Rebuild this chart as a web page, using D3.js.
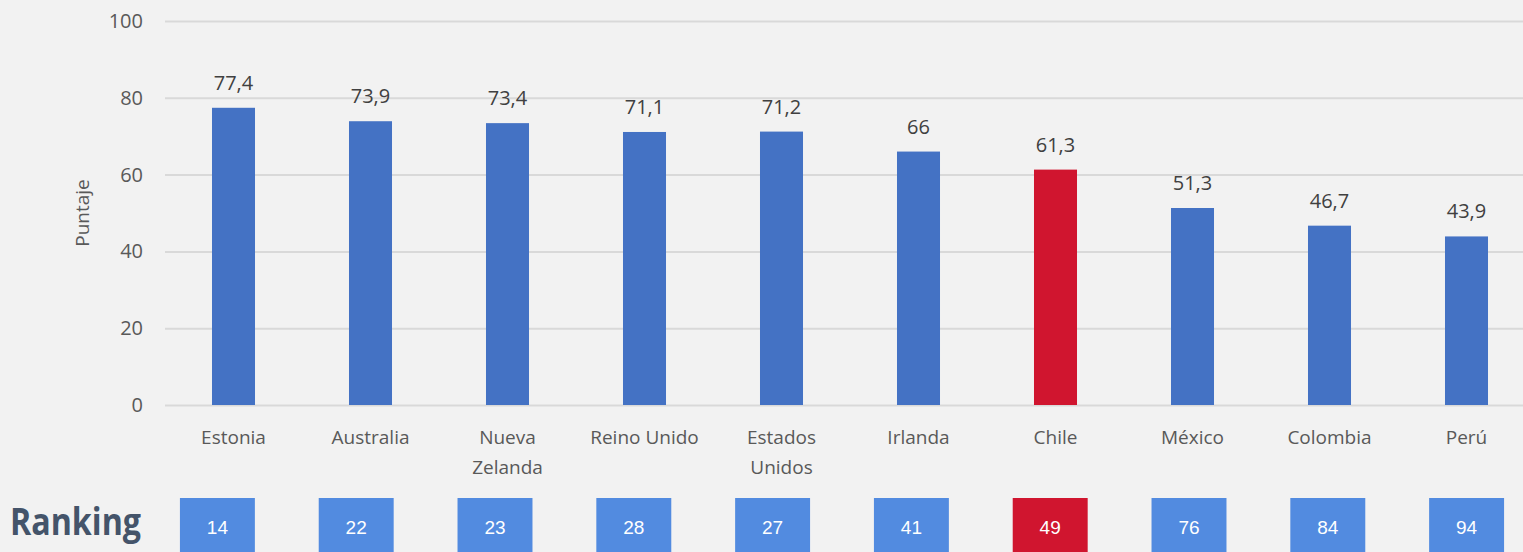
<!DOCTYPE html>
<html lang="es">
<head>
<meta charset="UTF-8">
<title>Puntaje y Ranking</title>
<script src="https://d3js.org/d3.v7.min.js"></script>
<style>
    html, body { margin: 0; padding: 0; background: #f2f2f2; }
    svg { display: block; font-family: "Open Sans", sans-serif; }
    .grid line { stroke: #d9d9d9; stroke-width: 2; }
    .grid .domain { display: none; }
    .tick-label { fill: #595959; font-size: 20px; }
    .cat-label { fill: #595959; font-size: 19px; }
    .value-label { fill: #404040; font-size: 20px; }
</style>
</head>
<body>
<svg id="chart" width="1523" height="552"></svg>
<script>
    const countries = ["Estonia", "Australia", "Nueva Zelanda", "Reino Unido", "Estados Unidos",
                       "Irlanda", "Chile", "México", "Colombia", "Perú"];
    const countryLines = [["Estonia"], ["Australia"], ["Nueva", "Zelanda"], ["Reino Unido"], ["Estados", "Unidos"],
                          ["Irlanda"], ["Chile"], ["México"], ["Colombia"], ["Perú"]];
    const scores = [77.4, 73.9, 73.4, 71.1, 71.2, 66, 61.3, 51.3, 46.7, 43.9];
    const ranking = [14, 22, 23, 28, 27, 41, 49, 76, 84, 94];
    const yTicks = [0, 20, 40, 60, 80, 100];
    const highlight = "Chile";

    const svg = d3.select("#chart");
    const plotTop = 21, plotBottom = 405;

    const x = d3.scaleBand()
        .domain(countries)
        .range([165, 1535])
        .paddingInner(0.686)
        .paddingOuter(0.343);

    const y = d3.scaleLinear()
        .domain([0, 100])
        .range([plotBottom, plotTop]);

    // gridlines
    svg.append("g")
        .attr("class", "grid")
        .attr("transform", "translate(165,0)")
        .call(d3.axisLeft(y).tickValues(yTicks).tickSize(-1400).tickFormat(""));

    // y tick labels
    svg.append("g")
        .selectAll("text")
        .data(yTicks)
        .join("text")
        .attr("class", "tick-label")
        .attr("x", 143)
        .attr("y", d => y(d))
        .attr("dy", "0.35em")
        .attr("text-anchor", "end")
        .text(d => d);

    svg.append("text")
        .attr("class", "cat-label")
        .attr("transform", `translate(89,${(plotTop + plotBottom) / 2}) rotate(-90)`)
        .attr("text-anchor", "middle")
        .text("Puntaje");

    // bars
    svg.append("g")
        .selectAll("rect")
        .data(countries)
        .join("rect")
        .attr("x", d => x(d))
        .attr("y", (d, i) => y(scores[i]))
        .attr("width", x.bandwidth())
        .attr("height", (d, i) => plotBottom - y(scores[i]))
        .attr("fill", d => d === highlight ? "#d0152f" : "#4472c4");

    // value labels
    const fmt = v => String(v).replace(".", ",");
    svg.append("g")
        .selectAll("text")
        .data(countries)
        .join("text")
        .attr("class", "value-label")
        .attr("x", d => x(d) + x.bandwidth() / 2)
        .attr("y", (d, i) => y(scores[i]) - 18)
        .attr("text-anchor", "middle")
        .text((d, i) => fmt(scores[i]));

    // category labels
    svg.append("g")
        .selectAll("text")
        .data(countries)
        .join("text")
        .attr("class", "cat-label")
        .attr("x", d => x(d) + x.bandwidth() / 2)
        .attr("y", 444)
        .attr("text-anchor", "middle")
        .selectAll("tspan")
        .data((d, i) => countryLines[i])
        .join("tspan")
        .attr("x", function() { return this.parentNode.getAttribute("x"); })
        .attr("dy", (d, i) => i === 0 ? 0 : 30)
        .text(d => d);

    // ranking row
    svg.append("text")
        .attr("x", 10)
        .attr("y", 535)
        .attr("fill", "#44546a")
        .attr("font-size", "37px")
        .attr("font-weight", "bold")
        .attr("textLength", 131)
        .attr("lengthAdjust", "spacingAndGlyphs")
        .text("Ranking");

    const xr = d3.scaleBand()
        .domain(countries)
        .range([148, 1536])
        .paddingInner(0.46)
        .paddingOuter(0.23);

    const boxes = svg.append("g")
        .selectAll("g")
        .data(countries)
        .join("g")
        .attr("transform", d => `translate(${xr(d)},498)`);

    boxes.append("rect")
        .attr("width", xr.bandwidth())
        .attr("height", 60)
        .attr("fill", d => d === highlight ? "#d0152f" : "#528be0");

    boxes.append("text")
        .attr("x", xr.bandwidth() / 2)
        .attr("y", 29)
        .attr("dy", "0.35em")
        .attr("text-anchor", "middle")
        .attr("fill", "#ffffff")
        .attr("font-family", "'Liberation Sans', Arial, sans-serif")
        .attr("font-size", "19px")
        .text((d, i) => ranking[i]);
</script>
</body>
</html>
